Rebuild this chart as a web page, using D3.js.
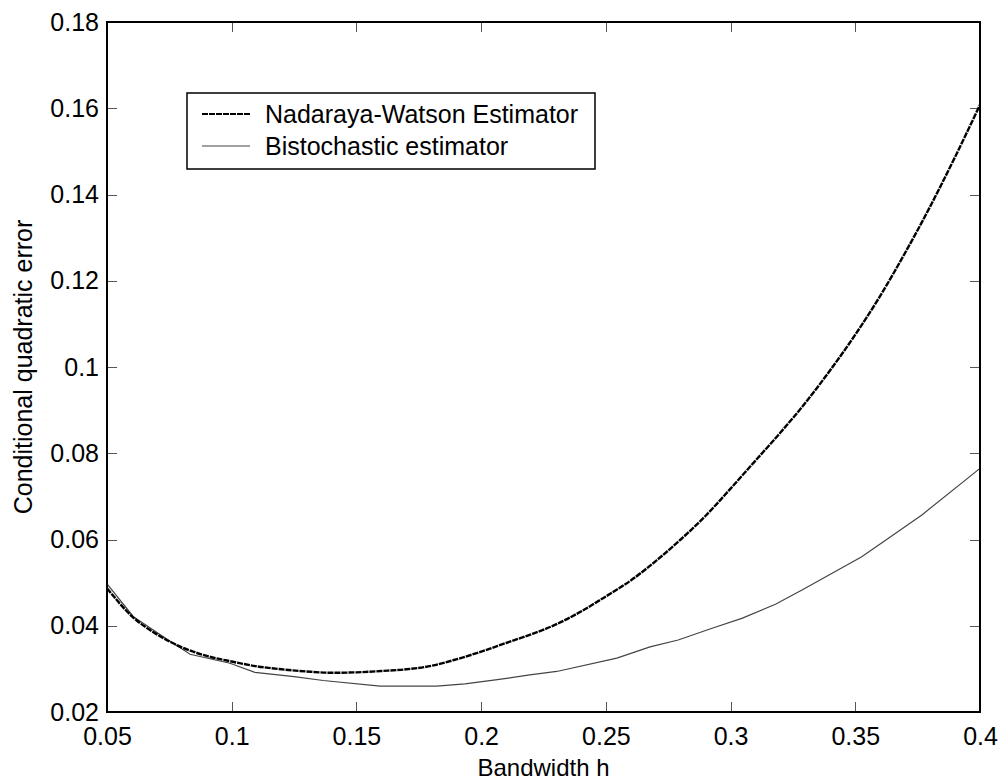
<!DOCTYPE html>
<html>
<head>
<meta charset="utf-8">
<title></title>
<script src="https://cdn.jsdelivr.net/npm/d3@7"></script>
<style>
  body { margin: 0; background: #fff; }
  text { font-family: "Liberation Sans", Arial, sans-serif; fill: #000; }
  .axis path { display: none; }
  .axis line { stroke: #555; shape-rendering: crispEdges; }
  .axis text { font-size: 25px; }
</style>
</head>
<body>
<script>
// bandwidth grid (x) and values
var nwX = [0.05, 0.06, 0.07, 0.08, 0.09, 0.10, 0.11, 0.12, 0.13, 0.14, 0.15, 0.16, 0.17, 0.18,
           0.19, 0.20, 0.21, 0.22, 0.23, 0.24, 0.25, 0.26, 0.27, 0.28, 0.29, 0.30, 0.31, 0.32,
           0.33, 0.34, 0.35, 0.36, 0.37, 0.38, 0.39, 0.40];
var nwY = [0.0487, 0.0422, 0.0380, 0.0350, 0.0330, 0.0317, 0.0306, 0.0299, 0.0294, 0.0291, 0.0292, 0.0295, 0.0299, 0.0307,
           0.0322, 0.0340, 0.0360, 0.0380, 0.0403, 0.0433, 0.0468, 0.0505, 0.0550, 0.0600, 0.0655, 0.0718, 0.0783, 0.0848,
           0.0917, 0.0993, 0.1075, 0.1165, 0.1265, 0.1372, 0.1487, 0.1608];

var biX = [0.05, 0.0606, 0.072, 0.0833, 0.0993, 0.1093, 0.125, 0.1367, 0.1595, 0.1822, 0.1935, 0.2065,
           0.2195, 0.2303, 0.2544, 0.2677, 0.279, 0.292, 0.3045, 0.318, 0.329, 0.3526, 0.3767, 0.4];
var biY = [0.0497, 0.0421, 0.0377, 0.0334, 0.0313, 0.0292, 0.0282, 0.0273, 0.0260, 0.0260, 0.0265, 0.0275,
           0.0286, 0.0294, 0.0325, 0.0351, 0.0367, 0.0393, 0.0417, 0.0450, 0.0484, 0.0560, 0.0657, 0.0765];

var xTicks = [0.05, 0.1, 0.15, 0.2, 0.25, 0.3, 0.35, 0.4];
var xTickLabels = ["0.05", "0.1", "0.15", "0.2", "0.25", "0.3", "0.35", "0.4"];
var yTicks = [0.02, 0.04, 0.06, 0.08, 0.1, 0.12, 0.14, 0.16, 0.18];
var yTickLabels = ["0.02", "0.04", "0.06", "0.08", "0.1", "0.12", "0.14", "0.16", "0.18"];

var seriesNames = ["Nadaraya-Watson Estimator", "Bistochastic estimator"];

var width = 1002, height = 783;
var padding = {left: 107, right: 22, top: 22, bottom: 71};
var w = width - padding.left - padding.right;
var h = height - padding.top - padding.bottom;

var svg = d3.select("body").append("svg")
    .attr("width", width)
    .attr("height", height);

var g = svg.append("g")
    .attr("transform", "translate(" + padding.left + "," + padding.top + ")");

var xScale = d3.scaleLinear().domain([0.05, 0.4]).range([0, w]);
var yScale = d3.scaleLinear().domain([0.02, 0.18]).range([h, 0]);

// ticks on all four sides, pointing inward
g.append("g").attr("class", "axis")
    .attr("transform", "translate(0," + h + ")")
    .call(d3.axisBottom(xScale).tickValues(xTicks).tickSizeInner(-10).tickSizeOuter(0).tickPadding(15)
        .tickFormat(function(d, i) { return xTickLabels[i]; }));
g.append("g").attr("class", "axis")
    .call(d3.axisTop(xScale).tickValues(xTicks).tickSizeInner(-10).tickSizeOuter(0).tickFormat(""));
g.append("g").attr("class", "axis")
    .call(d3.axisLeft(yScale).tickValues(yTicks).tickSizeInner(-10).tickSizeOuter(0).tickPadding(8)
        .tickFormat(function(d, i) { return yTickLabels[i]; }));
g.append("g").attr("class", "axis")
    .attr("transform", "translate(" + w + ",0)")
    .call(d3.axisRight(yScale).tickValues(yTicks).tickSizeInner(-10).tickSizeOuter(0).tickFormat(""));

var line = d3.line()
    .x(function(d) { return xScale(d[0]); })
    .y(function(d) { return yScale(d[1]); });

g.append("path")
    .attr("d", line(d3.zip(biX, biY)))
    .attr("fill", "none")
    .attr("stroke", "#444")
    .attr("stroke-width", 1.2);

g.append("path")
    .attr("d", line.curve(d3.curveMonotoneX)(d3.zip(nwX, nwY)))
    .attr("fill", "none")
    .attr("stroke", "#000")
    .attr("stroke-width", 2.4)
    .attr("stroke-dasharray", "6,1");

// frame
g.append("rect")
    .attr("width", w)
    .attr("height", h)
    .attr("fill", "none")
    .attr("stroke", "#000")
    .attr("stroke-width", 2);

// legend
var legend = svg.append("g");
legend.append("rect")
    .attr("x", 187).attr("y", 93)
    .attr("width", 408).attr("height", 76)
    .attr("fill", "#fff")
    .attr("stroke", "#000")
    .attr("stroke-width", 1.5);
legend.selectAll("line.sample")
    .data(seriesNames)
    .enter().append("line")
    .attr("x1", 202).attr("x2", 250)
    .attr("y1", function(d, i) { return 114 + i * 32; })
    .attr("y2", function(d, i) { return 114 + i * 32; })
    .attr("stroke", function(d, i) { return i == 0 ? "#000" : "#444"; })
    .attr("stroke-width", function(d, i) { return i == 0 ? 2 : 1.2; })
    .attr("stroke-dasharray", function(d, i) { return i == 0 ? "6,1" : null; });
legend.selectAll("text")
    .data(seriesNames)
    .enter().append("text")
    .attr("x", 265)
    .attr("y", function(d, i) { return 114 + i * 32; })
    .attr("dy", "0.35em")
    .style("font-size", "25px")
    .text(function(d) { return d; });

// axis titles
svg.append("text")
    .attr("x", padding.left + w / 2)
    .attr("y", 776)
    .attr("text-anchor", "middle")
    .style("font-size", "24px")
    .text("Bandwidth h");

svg.append("text")
    .attr("transform", "translate(32," + (padding.top + h / 2) + ") rotate(-90)")
    .attr("text-anchor", "middle")
    .style("font-size", "25px")
    .text("Conditional quadratic error");
</script>
</body>
</html>
